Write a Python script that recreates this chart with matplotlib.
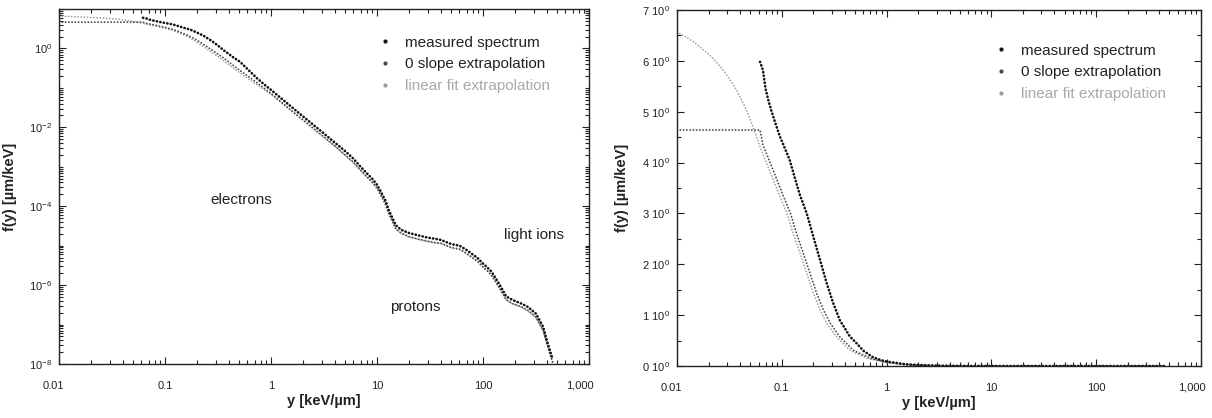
import matplotlib
matplotlib.use("Agg")
import matplotlib.pyplot as plt
import matplotlib.transforms as mtransforms
from matplotlib.lines import Line2D
from matplotlib.ticker import LogLocator, FixedLocator, MultipleLocator, NullFormatter

plt.rcParams['font.family'] = ['Liberation Sans', 'DejaVu Sans']
plt.rcParams['mathtext.default'] = 'regular'

# --- data (y in keV/um, f(y) in um/keV) ---

# common y grid for the tail (y >= 1 keV/um)
y_tail = [1, 1.5, 2, 3, 4, 5, 6, 7, 8, 9, 10, 11, 12, 13, 14, 15, 17, 20, 25, 30,
          35, 40, 50, 60, 70, 80, 90, 100, 110, 120, 135, 150, 165, 190, 225, 265,
          315, 370, 400, 435, 455]

# measured spectrum
measured_head_y = [0.062, 0.066, 0.070, 0.075, 0.080, 0.086, 0.096, 0.107, 0.119, 0.133,
                   0.149, 0.173, 0.20, 0.232, 0.268, 0.31, 0.358, 0.446, 0.51, 0.60,
                   0.73, 0.87]
measured_head_f = [5.98, 5.82, 5.45, 5.2, 5.0, 4.8, 4.51, 4.28, 4.05, 3.70,
                   3.36, 3.0, 2.54, 2.08, 1.63, 1.23, 0.90, 0.58, 0.46, 0.30,
                   0.18, 0.12]
measured_tail_f = [8.9e-2, 3.6e-2, 1.9e-2, 7.8e-3, 4.1e-3, 2.5e-3, 1.6e-3, 1.0e-3, 6.9e-4, 5.0e-4,
                   3.5e-4, 2.2e-4, 1.4e-4, 7.6e-5, 5.0e-5, 3.3e-5, 2.5e-5, 2.1e-5, 1.8e-5, 1.6e-5,
                   1.5e-5, 1.4e-5, 1.1e-5, 1.0e-5, 7.8e-6, 6.0e-6, 4.7e-6, 3.5e-6, 2.8e-6, 2.2e-6,
                   1.35e-6, 8.3e-7, 5.2e-7, 4.2e-7, 3.5e-7, 2.8e-7, 1.9e-7, 8.7e-8, 4.0e-8, 1.9e-8,
                   1.3e-8]

# 0 slope extrapolation
zero_head_y = [0.01, 0.062, 0.066, 0.078, 0.09, 0.104, 0.121, 0.138, 0.16, 0.186,
               0.215, 0.25, 0.29, 0.355, 0.48, 0.70]
zero_head_f = [4.64, 4.64, 4.35, 3.98, 3.66, 3.33, 3.0, 2.61, 2.22, 1.82,
               1.43, 1.10, 0.84, 0.58, 0.31, 0.15]
zero_tail_f = [7.2e-2, 2.9e-2, 1.55e-2, 6.4e-3, 3.4e-3, 2.0e-3, 1.3e-3, 8.2e-4, 5.6e-4, 4.1e-4,
               2.9e-4, 1.8e-4, 1.15e-4, 6.2e-5, 4.1e-5, 2.7e-5, 2.05e-5, 1.7e-5, 1.45e-5, 1.3e-5,
               1.2e-5, 1.15e-5, 9.0e-6, 8.2e-6, 6.4e-6, 4.9e-6, 3.9e-6, 2.9e-6, 2.3e-6, 1.8e-6,
               1.1e-6, 6.8e-7, 4.3e-7, 3.4e-7, 2.9e-7, 2.3e-7, 1.55e-7, 7.1e-8, 3.3e-8, 1.6e-8,
               1.1e-8]

# linear fit extrapolation
linfit_head_y = [0.01, 0.0143, 0.0206, 0.0277, 0.037, 0.046, 0.053, 0.062, 0.072, 0.083,
                 0.096, 0.112, 0.128, 0.149, 0.173, 0.20, 0.232, 0.268, 0.33, 0.446, 0.65]
linfit_head_f = [6.57, 6.38, 6.11, 5.82, 5.43, 5.03, 4.71, 4.31, 3.98, 3.66,
                 3.33, 3.0, 2.61, 2.22, 1.82, 1.43, 1.10, 0.84, 0.58, 0.31, 0.15]
linfit_tail_f = [6.9e-2, 2.8e-2, 1.5e-2, 6.2e-3, 3.3e-3, 1.95e-3, 1.25e-3, 8.0e-4, 5.5e-4, 4.0e-4,
                 2.8e-4, 1.75e-4, 1.1e-4, 6.0e-5, 4.0e-5, 2.65e-5, 2.0e-5, 1.65e-5, 1.42e-5, 1.27e-5,
                 1.18e-5, 1.12e-5, 8.8e-6, 8.0e-6, 6.2e-6, 4.8e-6, 3.8e-6, 2.8e-6, 2.25e-6, 1.75e-6,
                 1.08e-6, 6.6e-7, 4.2e-7, 3.3e-7, 2.8e-7, 2.2e-7, 1.5e-7, 7.0e-8, 3.2e-8, 1.55e-8,
                 1.05e-8]

series_labels = ['measured spectrum', '0 slope extrapolation', 'linear fit extrapolation']
x_tick_values = [0.01, 0.1, 1, 10, 100, 1000]
x_tick_labels = ['0.01', '0.1', '1', '10', '100', '1,000']
log_y_ticks = [1e-8, 1e-6, 1e-4, 1e-2, 1e0]
log_y_labels = [r'$10^{-8}$', r'$10^{-6}$', r'$10^{-4}$', r'$10^{-2}$', r'$10^{0}$']
lin_y_ticks = [0, 1, 2, 3, 4, 5, 6, 7]
lin_y_labels = [r'$%d\ 10^{0}$' % v for v in lin_y_ticks]

# annotations on the log panel: (text, x, y) in data coords
region_labels = [('electrons', 0.52, 1.4e-4), ('light ions', 300, 1.9e-5), ('protons', 23, 2.8e-7)]

series = [
    (measured_head_y + y_tail, measured_head_f + measured_tail_f),
    (zero_head_y + y_tail, zero_head_f + zero_tail_f),
    (linfit_head_y + y_tail, linfit_head_f + linfit_tail_f),
]
styles = [
    dict(color='#111111', lw=1.9, ls=(0, (0.1, 1.25))),
    dict(color='#4a4a4a', lw=1.3, ls=(0, (0.1, 1.7))),
    dict(color='#9c9c9c', lw=1.2, ls=(0, (0.1, 1.8))),
]
text_colors = ['#222222', '#222222', '#a8a8a8']

fig = plt.figure(figsize=(12.12, 4.18), dpi=100)
ax1 = fig.add_axes([59 / 1212, 1 - 364 / 418, 530 / 1212, 355 / 418])
ax2 = fig.add_axes([677 / 1212, 1 - 366 / 418, 524 / 1212, 356 / 418])


def draw(ax):
    # gray series first so the measured one sits on top
    for (xs, ys), st in reversed(list(zip(series, styles))):
        ax.plot(xs, ys, color=st['color'], lw=st['lw'], linestyle=st['ls'],
                dash_capstyle='round')
    ax.set_xscale('log')
    ax.set_xlim(0.01, 1000)
    ax.xaxis.set_major_locator(FixedLocator(x_tick_values))
    ax.set_xticklabels(x_tick_labels)
    ax.xaxis.set_minor_locator(LogLocator(base=10, subs=range(2, 10), numticks=20))
    ax.xaxis.set_minor_formatter(NullFormatter())
    ax.tick_params(which='both', direction='in', top=True, right=True,
                   colors='#222222', labelcolor='#222222', width=0.8)
    ax.tick_params(which='major', length=5, labelsize=8)
    ax.tick_params(which='minor', length=3)
    ax.tick_params(axis='x', pad=12)
    ax.tick_params(axis='y', pad=5)
    for sp in ax.spines.values():
        sp.set_color('#222222')
        sp.set_linewidth(1.0)
    ax.set_xlabel('y [keV/µm]', fontsize=10.5, fontweight='bold', color='#222222')
    ax.set_ylabel('f(y) [µm/keV]', fontsize=10.5, fontweight='bold', color='#222222')

    # end labels sit a little inward, as in the original
    labels = ax.get_xticklabels()
    shift_l = mtransforms.ScaledTranslation(-6 / 100, 0, fig.dpi_scale_trans)
    shift_r = mtransforms.ScaledTranslation(-9 / 100, 0, fig.dpi_scale_trans)
    labels[0].set_transform(labels[0].get_transform() + shift_l)
    labels[-1].set_transform(labels[-1].get_transform() + shift_r)

    handles = [Line2D([], [], ls='none', marker='.', ms=4, color=st['color'])
               for st in styles]
    return handles


def add_legend(ax, handles, anchor):
    leg = ax.legend(handles, series_labels, loc='upper left', bbox_to_anchor=anchor,
                    frameon=False, fontsize=11, handlelength=0.8, handletextpad=0.9,
                    labelspacing=0.5, borderpad=0, borderaxespad=0)
    for t, c in zip(leg.get_texts(), text_colors):
        t.set_color(c)


# left: log-log
ax1.set_yscale('log')
h1 = draw(ax1)
ax1.set_ylim(1e-8, 1e1)
ax1.yaxis.set_major_locator(FixedLocator(log_y_ticks))
ax1.set_yticklabels(log_y_labels)
ax1.yaxis.set_minor_locator(LogLocator(base=10, subs=range(1, 10), numticks=30))
ax1.yaxis.set_minor_formatter(NullFormatter())
ax1.xaxis.set_label_coords(0.5, -0.085)
ax1.yaxis.set_label_coords(-0.079, 0.5)
add_legend(ax1, h1, (0.603, 0.925))
for txt, tx, ty in region_labels:
    ax1.text(tx, ty, txt, fontsize=11, ha='center', va='center', color='#222222')

# right: log-linear
h2 = draw(ax2)
ax2.set_ylim(0, 7)
ax2.yaxis.set_major_locator(FixedLocator(lin_y_ticks))
ax2.set_yticklabels(lin_y_labels)
ax2.yaxis.set_minor_locator(MultipleLocator(0.5))
ax2.xaxis.set_label_coords(0.5, -0.085)
ax2.yaxis.set_label_coords(-0.092, 0.5)
add_legend(ax2, h2, (0.607, 0.905))

fig.savefig('out.png', dpi=100)
